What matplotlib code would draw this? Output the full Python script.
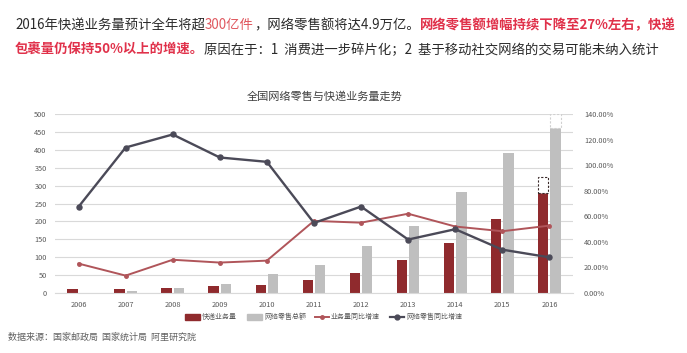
import matplotlib
matplotlib.use("Agg")
import matplotlib.pyplot as plt
from matplotlib.ticker import FuncFormatter, MultipleLocator
import numpy as np

plt.rcParams['font.family'] = ['Noto Sans CJK SC', 'DejaVu Sans']

years = [2006, 2007, 2008, 2009, 2010, 2011, 2012, 2013, 2014, 2015, 2016]
express_volume = [11, 12, 15, 19, 23, 37, 57, 92, 140, 207, 280]
express_forecast_top = 323
retail_total = [1, 6, 13, 26, 52, 79, 131, 186, 281, 390, 460]
retail_forecast_top = 500
express_growth = [23.0, 13.6, 26.0, 23.8, 25.3, 56.4, 55.0, 62.0, 52.0, 48.3, 52.7]
retail_growth = [67.4, 113.8, 124.0, 106.0, 102.6, 54.8, 67.6, 41.8, 49.9, 33.9, 27.9]

legend_labels = ['快递业务量', '网络零售总额', '业务量同比增速', '网络零售同比增速']

RED_BAR = '#8f2a2d'
GRAY_BAR = '#bfbfbf'
RED_LINE = '#b0555a'
DARK_LINE = '#4b4a58'

fig = plt.figure(figsize=(6.87, 3.53), dpi=100)
ax = fig.add_axes([0.080, 0.170, 0.754, 0.507])
ax2 = ax.twinx()

x = np.array(years, dtype=float)
w = 0.22
ax.bar(x - 0.13, express_volume, width=w, color=RED_BAR, zorder=2)
ax.bar(x + 0.13, retail_total, width=w, color=GRAY_BAR, zorder=2)
# forecast dashed boxes for 2016
ax.bar(x[-1] - 0.13, express_forecast_top - express_volume[-1], bottom=express_volume[-1],
       width=w, facecolor='white', edgecolor='#3a2a2a', linestyle=(0, (2, 1.5)), linewidth=0.8, zorder=3)
ax.bar(x[-1] + 0.13, retail_forecast_top - retail_total[-1], bottom=retail_total[-1],
       width=w, facecolor='white', edgecolor='#d0d0d0', linestyle=(0, (2, 1.5)), linewidth=0.8, zorder=3)

ax.set_xlim(2005.5, 2016.5)
ax.set_ylim(0, 500)
ax.yaxis.set_major_locator(MultipleLocator(50))
ax.set_xticks(years)
ax.grid(axis='y', color='#d9d9d9', linewidth=0.8, zorder=0)
ax.set_axisbelow(True)
for s in ax.spines.values():
    s.set_visible(False)
for s in ax2.spines.values():
    s.set_visible(False)
ax.spines['bottom'].set_visible(True)
ax.spines['bottom'].set_color('#d9d9d9')
ax.tick_params(axis='both', length=0, labelsize=5.3, colors='#595959', pad=6)

ax2.plot(x, express_growth, color=RED_LINE, linewidth=1.4, marker='o', markersize=2.5, zorder=4)
ax2.plot(x, retail_growth, color=DARK_LINE, linewidth=1.7, marker='o', markersize=3.6, zorder=5)
ax2.set_ylim(0, 140)
ax2.yaxis.set_major_locator(MultipleLocator(20))
ax2.yaxis.set_major_formatter(FuncFormatter(lambda v, p: f"{v:.2f}%"))
ax2.tick_params(axis='y', length=0, labelsize=5.3, colors='#595959', pad=8)

# chart title
fig.text(0.473, 0.726, '全国网络零售与快递业务量走势', ha='center', va='center', fontsize=8, color='#404040')

# legend (manual)
from matplotlib.patches import Rectangle
from matplotlib.lines import Line2D
ly = 1 - 317 / 353
fig.patches.append(Rectangle((185 / 687, ly - 0.008), 15 / 687, 0.016, transform=fig.transFigure, color=RED_BAR))
fig.text(202 / 687, ly, legend_labels[0], fontsize=5, va='center', color='#595959')
fig.patches.append(Rectangle((247 / 687, ly - 0.008), 15 / 687, 0.016, transform=fig.transFigure, color=GRAY_BAR))
fig.text(264 / 687, ly, legend_labels[1], fontsize=5, va='center', color='#595959')
fig.lines.append(Line2D([315 / 687, 329 / 687], [ly, ly], transform=fig.transFigure, color=RED_LINE, lw=1.4))
fig.lines.append(Line2D([322 / 687], [ly], transform=fig.transFigure, color=RED_LINE, marker='o', markersize=2.5))
fig.text(331 / 687, ly, legend_labels[2], fontsize=5, va='center', color='#595959')
fig.lines.append(Line2D([390 / 687, 404 / 687], [ly, ly], transform=fig.transFigure, color=DARK_LINE, lw=1.6))
fig.lines.append(Line2D([397 / 687], [ly], transform=fig.transFigure, color=DARK_LINE, marker='o', markersize=3.5))
fig.text(406 / 687, ly, legend_labels[3], fontsize=5, va='center', color='#595959')

# source
fig.text(8 / 687, 1 - 337 / 353, '数据来源：国家邮政局  国家统计局  阿里研究院', fontsize=6.5, va='center', color='#606060')

# header text with mixed colors
BLACK = '#2a2a2a'
LRED = '#e0585f'
BRED = '#e0314a'
line1 = [("2016年快递业务量预计全年将超", BLACK, 'normal'),
         ("300亿件", LRED, 'normal'),
         ("，网络零售额将达4.9万亿。", BLACK, 'normal'),
         ("网络零售额增幅持续下降至27%左右，快递", BRED, 'bold')]
line2 = [("包裹量仍保持50%以上的增速。", BRED, 'bold'),
         ("原因在于：1  消费进一步碎片化；2  基于移动社交网络的交易可能未纳入统计", BLACK, 'normal')]

fig.canvas.draw()
renderer = fig.canvas.get_renderer()

def draw_line(parts, x0_px, y_px, fs):
    xp = x0_px
    for txt, col, wt in parts:
        t = fig.text(xp / 687, 1 - y_px / 353, txt, fontsize=fs, color=col, fontweight=wt, va='center', ha='left')
        bb = t.get_window_extent(renderer=renderer)
        xp += bb.width

draw_line(line1, 15, 25, 9.6)
draw_line(line2, 15, 50, 9.6)

fig.savefig('out.png', dpi=100, facecolor='white')
